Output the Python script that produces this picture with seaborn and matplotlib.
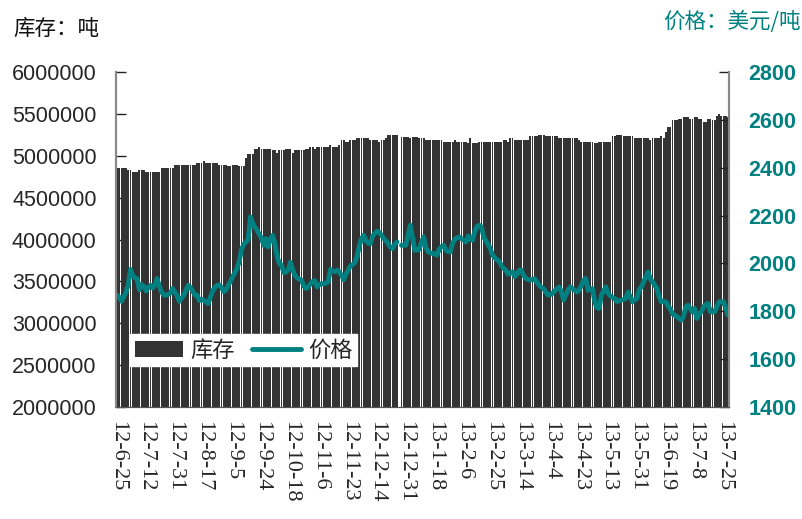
import numpy as np
import pandas as pd
import matplotlib
matplotlib.use("Agg")
import matplotlib.pyplot as plt
import matplotlib.transforms as mtransforms
import seaborn as sns

# inventory (thousand tonnes) and price (USD/t), one value per trading day
stock_kt = [
    4853, 4853, 4853, 4853, 4853, 4830, 4830, 4805, 4805, 4805,
    4830, 4830, 4830, 4805, 4805, 4805, 4805, 4805, 4805, 4805,
    4853, 4853, 4853, 4853, 4853, 4853, 4890, 4890, 4890, 4890,
    4890, 4890, 4890, 4890, 4890, 4890, 4910, 4910, 4910, 4940,
    4910, 4910, 4910, 4910, 4910, 4910, 4890, 4890, 4890, 4890,
    4880, 4880, 4890, 4890, 4890, 4880, 4880, 4880, 4970, 5020,
    5020, 5020, 5080, 5080, 5100, 5080, 5080, 5080, 5080, 5080,
    5067, 5067, 5040, 5067, 5067, 5067, 5080, 5080, 5080, 5040,
    5067, 5067, 5067, 5067, 5067, 5080, 5080, 5100, 5100, 5080,
    5100, 5100, 5100, 5100, 5100, 5100, 5127, 5100, 5100, 5100,
    5127, 5190, 5190, 5160, 5160, 5190, 5190, 5190, 5210, 5210,
    5210, 5210, 5210, 5210, 5187, 5187, 5187, 5187, 5163, 5187,
    5187, 5210, 5246, 5246, 5246, 5246, 5246, np.nan, 5230, 5230,
    5230, 5230, 5210, 5230, 5230, 5230, 5210, 5210, 5210, 5187,
    5187, 5187, 5187, 5187, 5187, 5187, 5187, 5163, 5163, 5163,
    5163, 5163, 5187, 5163, 5163, 5163, 5163, 5163, 5150, 5210,
    5150, 5150, 5150, 5163, 5163, 5163, 5163, 5163, 5163, 5163,
    5163, 5163, 5163, 5163, 5187, 5187, 5163, 5210, 5210, 5187,
    5187, 5187, 5187, 5187, 5187, 5187, 5234, 5234, 5234, 5234,
    5246, 5246, 5246, 5234, 5234, 5234, 5234, 5234, 5234, 5210,
    5210, 5210, 5210, 5210, 5210, 5210, 5210, 5210, 5187, 5163,
    5163, 5163, 5163, 5163, 5163, 5150, 5150, 5163, 5163, 5163,
    5163, 5163, 5163, 5234, 5234, 5246, 5246, 5246, 5234, 5234,
    5234, 5234, 5234, 5210, 5210, 5210, 5210, 5210, 5210, 5210,
    5187, 5210, 5210, 5210, 5210, 5234, 5210, 5290, 5350, 5350,
    5425, 5425, 5425, 5437, 5437, 5460, 5460, 5460, 5437, 5437,
    5460, 5460, 5437, 5437, 5410, 5410, 5437, 5437, 5425, 5425,
    5480, 5500, 5480, 5480, 5480, 5460,
]

price = [
    1868, 1858, 1842, 1862, 1880, 1912, 1975, 1950, 1940, 1937,
    1890, 1912, 1905, 1885, 1900, 1909, 1898, 1910, 1937, 1905,
    1880, 1868, 1868, 1870, 1877, 1895, 1880, 1865, 1842, 1855,
    1868, 1890, 1909, 1900, 1885, 1868, 1868, 1845, 1850, 1847,
    1840, 1832, 1860, 1885, 1900, 1909, 1910, 1900, 1882, 1890,
    1909, 1925, 1945, 1962, 1980, 2010, 2060, 2080, 2090, 2100,
    2195, 2170, 2150, 2139, 2122, 2105, 2076, 2104, 2069, 2104,
    2118, 2083, 2030, 2000, 1993, 1962, 1965, 1972, 2005, 1975,
    1951, 1940, 1935, 1930, 1905, 1895, 1902, 1915, 1925, 1928,
    1902, 1912, 1916, 1915, 1918, 1923, 1975, 1970, 1965, 1972,
    1965, 1950, 1932, 1955, 1972, 1990, 1995, 2003, 2030, 2072,
    2104, 2118, 2095, 2085, 2083, 2115, 2125, 2135, 2130, 2118,
    2105, 2095, 2083, 2068, 2062, 2080, 2090, np.nan, 2076, 2076,
    2076, 2120, 2160, 2110, 2055, 2055, 2060, 2090, 2111, 2065,
    2049, 2045, 2042, 2040, 2035, 2060, 2070, 2076, 2055, 2049,
    2049, 2085, 2100, 2108, 2111, 2104, 2098, 2090, 2115, 2100,
    2097, 2135, 2155, 2160, 2153, 2111, 2095, 2080, 2062, 2035,
    2025, 2014, 2010, 1990, 1979, 1972, 1955, 1960, 1965, 1945,
    1955, 1972, 1972, 1950, 1937, 1933, 1930, 1933, 1937, 1920,
    1909, 1900, 1895, 1880, 1868, 1870, 1875, 1885, 1895, 1902,
    1881, 1847, 1868, 1890, 1902, 1895, 1888, 1881, 1888, 1910,
    1930, 1937, 1888, 1892, 1895, 1840, 1815, 1812, 1868, 1885,
    1902, 1875, 1865, 1858, 1854, 1840, 1845, 1847, 1850, 1854,
    1881, 1860, 1840, 1848, 1854, 1890, 1902, 1923, 1945, 1965,
    1937, 1923, 1910, 1895, 1860, 1840, 1840, 1840, 1822, 1810,
    1790, 1784, 1777, 1770, 1763, 1780, 1819, 1826, 1810, 1798,
    1812, 1770, 1790, 1798, 1819, 1828, 1833, 1798, 1798, 1798,
    1820, 1840, 1840, 1840, 1812, 1784,
]

tick_labels = [
    "12-6-25", "12-7-12", "12-7-31", "12-8-17", "12-9-5", "12-9-24",
    "12-10-18", "12-11-6", "12-11-23", "12-12-14", "12-12-31", "13-1-18",
    "13-2-6", "13-2-25", "13-3-14", "13-4-4", "13-4-23", "13-5-13",
    "13-5-31", "13-6-19", "13-7-8", "13-7-25",
]
label_step = 13

BAR = "#333333"
TEAL = "#008080"

df = pd.DataFrame({
    "day": np.arange(len(price)),
    "stock": np.array(stock_kt, dtype=float) * 1000,
    "price": price,
})
# split the line where a day is missing so it is not bridged
df["segment"] = df["price"].isna().cumsum()
line_df = df.dropna(subset=["price"])

sns.set_style("white")
plt.rcParams["font.family"] = ["Liberation Sans", "Noto Sans CJK SC", "DejaVu Sans"]

fig = plt.figure(figsize=(8.03, 5.19), dpi=100)
ax = fig.add_axes([0.1445, 0.2158, 0.7635, 0.6452])

sns.barplot(data=df, x="day", y="stock", color=BAR, saturation=1, width=0.85,
            linewidth=0, ax=ax, label="库存")
if ax.get_legend() is not None:
    ax.get_legend().remove()
ax.set_ylim(2000000, 6000000)
ax.set_yticks(np.arange(2000000, 6000001, 500000))
ax.set_yticklabels([f"{v}" for v in range(2000000, 6000001, 500000)], fontsize=15.5)
ax.set_xlim(-0.5, len(df) - 0.5)
ax.set_xlabel("")
ax.set_ylabel("")

# tick marks at each day, labels every 13th
ax.set_xticks(np.arange(len(df)), minor=True)
ax.set_xticks(np.arange(len(tick_labels)) * label_step)
ax.set_xticklabels(tick_labels, rotation=-90, fontsize=16,
                   family="Liberation Serif", va="top", ha="center")
shift = mtransforms.ScaledTranslation(-4 / 100, 0, fig.dpi_scale_trans)
for lab in ax.get_xticklabels():
    lab.set_transform(lab.get_transform() + shift)
ax.tick_params(axis="x", which="both", direction="in", length=6, width=0.8,
               color="black", pad=10)
ax.tick_params(axis="y", direction="in", length=7, width=1, color="#222222", pad=14)

ax2 = ax.twinx()
sns.lineplot(data=line_df, x="day", y="price", units="segment", estimator=None,
             color=TEAL, linewidth=3.5, ax=ax2, legend=False)
ax2.set_ylim(1400, 2800)
ax2.set_yticks(np.arange(1400, 2801, 200))
ax2.set_yticklabels([str(v) for v in range(1400, 2801, 200)], fontsize=15.5,
                    fontweight="bold", color=TEAL)
ax2.tick_params(axis="y", direction="in", length=7, width=1, color="#222222", pad=14)
ax2.set_ylabel("")
ax2.set_xlim(-0.5, len(df) - 0.5)

for a in (ax, ax2):
    a.spines["top"].set_visible(False)
    a.spines["left"].set_color("#888888")
    a.spines["right"].set_color("#888888")
    a.spines["bottom"].set_color("#555555")
    a.spines["left"].set_linewidth(1.5)
    a.spines["right"].set_linewidth(1.5)

bar_handle = ax.patches[0]
line_handle = ax2.lines[0]
leg = ax2.legend([bar_handle, line_handle], ["库存", "价格"], loc="lower left",
                 bbox_to_anchor=(0.023, 0.122), ncol=2, frameon=True,
                 fancybox=False, framealpha=1, edgecolor="white",
                 facecolor="white", borderaxespad=0, handlelength=2.2,
                 columnspacing=0.8, handletextpad=0.3, borderpad=0.2,
                 prop={"family": ["Noto Sans CJK SC"], "size": 16})

fig.text(0.017, 0.945, "库存：吨", fontsize=15.5, family=["Noto Sans CJK SC"],
         color="#111111", va="center", ha="left")
fig.text(0.997, 0.958, "价格：美元/吨", fontsize=15.5, family=["Noto Sans CJK SC"],
         color=TEAL, va="center", ha="right")

fig.savefig("out.png", dpi=100)
